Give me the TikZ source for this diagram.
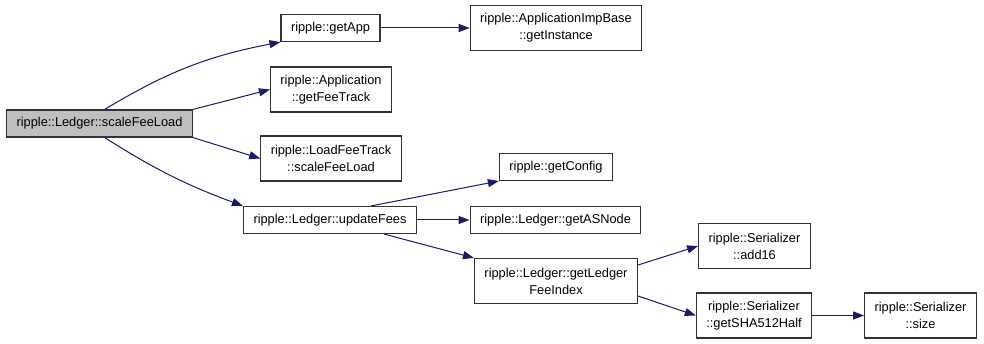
\documentclass[tikz,border=0pt]{standalone}
\usepackage{fontspec}
\setmainfont{Liberation Sans}
\usetikzlibrary{arrows.meta}
\definecolor{edgeblue}{HTML}{191970}

\begin{document}
\begin{tikzpicture}[x=1pt, y=-1pt,
    fn/.style={rectangle, draw=black!80, line width=1.1pt, fill=white, align=center,
      inner xsep=10pt, inner ysep=3pt, minimum height=27pt,
      font=\fontsize{12.8}{17}\selectfont},
    twoline/.style={minimum height=45pt},
    cur/.style={fill=black!25},
    call/.style={draw=edgeblue, line width=1pt, -{Triangle[length=11pt,width=8pt]}}]
      \useasboundingbox (0,0) rectangle (984,344);

      \node[fn, cur] (scale) at (99.5,123.5) {ripple::Ledger::scaleFeeLoad};
      \node[fn] (app) at (330.5,28) {ripple::getApp};
      \node[fn, twoline] (inst) at (556,28) {ripple::ApplicationImpBase\\::getInstance};
      \node[fn, twoline] (track) at (331,89.5) {ripple::Application\\::getFeeTrack};
      \node[fn, twoline] (load) at (331,158.5) {ripple::LoadFeeTrack\\::scaleFeeLoad};
      \node[fn] (fees) at (330,220) {ripple::Ledger::updateFees};
      \node[fn] (config) at (556,167) {ripple::getConfig};
      \node[fn] (asnode) at (555.5,220) {ripple::Ledger::getASNode};
      \node[fn, twoline] (index) at (556,281) {ripple::Ledger::getLedger\\FeeIndex};
      \node[fn, twoline] (add) at (754.5,246) {ripple::Serializer\\::add16};
      \node[fn, twoline] (sha) at (754,315.5) {ripple::Serializer\\::getSHA512Half};
      \node[fn, twoline] (size) at (920.5,315.5) {ripple::Serializer\\::size};

      \draw[call] (scale.70) to[bend left=10] (app.south west);
      \draw[call] (scale.north east) -- (track.west);
      \draw[call] (scale.south east) -- (load.west);
      \draw[call] (scale.290) to[bend right=6] (fees.north west);
      \draw[call] (app) -- (inst);
      \draw[call] (fees.north east) ++(-46,0) -- (config.south west);
      \draw[call] (fees) -- (asnode);
      \draw[call] (fees.south east) ++(-33,0) -- (index.north west);
      \draw[call] (index.east) ++(0,-16) -- (add.west);
      \draw[call] (index.east) ++(0,15) -- (sha.west);
      \draw[call] (sha) -- (size);
    \end{tikzpicture}
\end{document}
